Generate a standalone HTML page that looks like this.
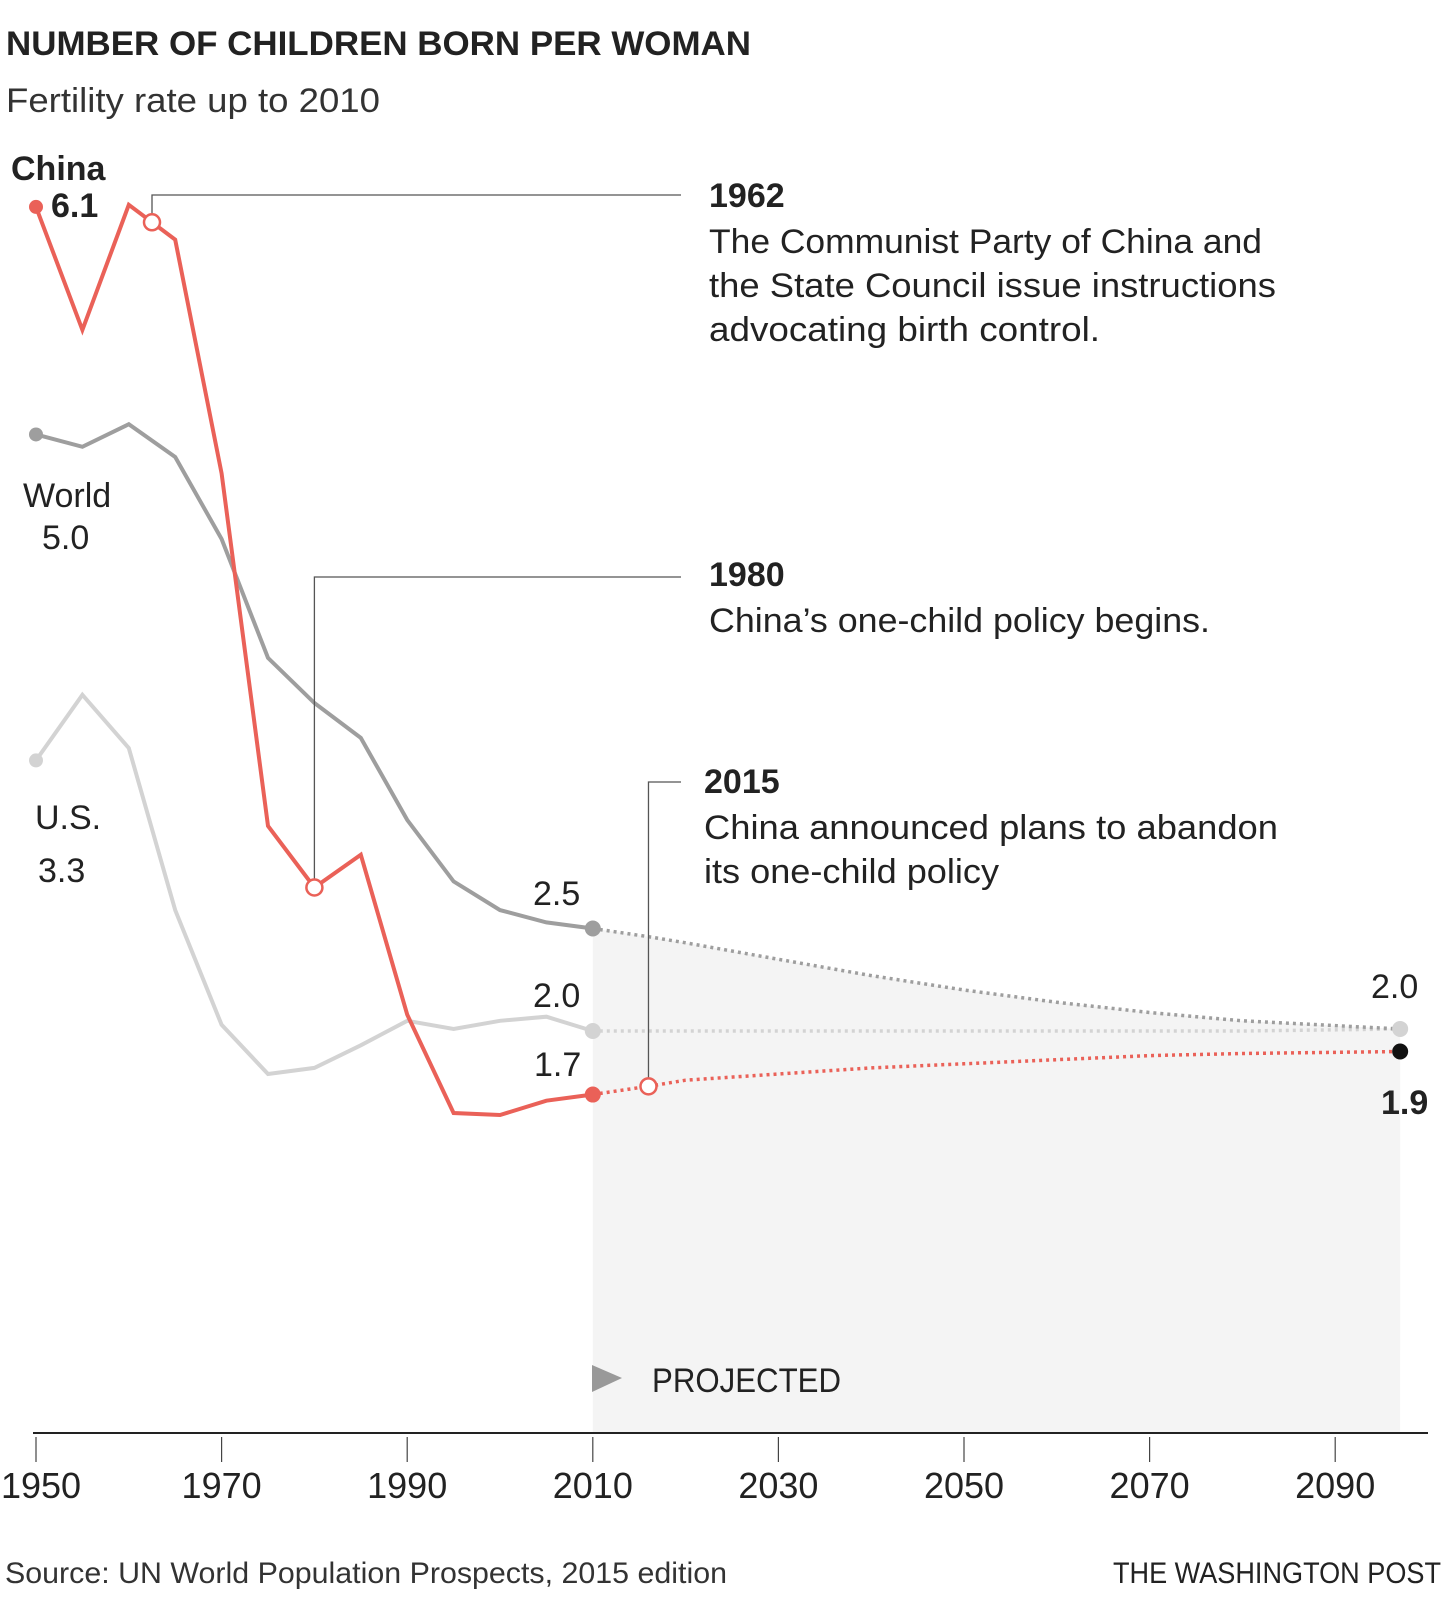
<!DOCTYPE html>
<html><head><meta charset="utf-8">
<style>
html,body{margin:0;padding:0;background:#fff;}
svg{display:block;font-family:"Liberation Sans",sans-serif;}
</style></head>
<body>
<svg id="chart" width="1448" height="1600" viewBox="0 0 1448 1600" xmlns="http://www.w3.org/2000/svg">
<text x="6" y="55" font-size="34" font-weight="bold" fill="#222" textLength="745" lengthAdjust="spacingAndGlyphs">NUMBER OF CHILDREN BORN PER WOMAN</text>
<text x="6" y="112" font-size="34" fill="#333" textLength="374" lengthAdjust="spacingAndGlyphs">Fertility rate up to 2010</text>
<g id="plot"></g>
<text x="5" y="1583" font-size="30" fill="#333" textLength="722" lengthAdjust="spacingAndGlyphs">Source: UN World Population Prospects, 2015 edition</text>
<text x="1113" y="1583" font-size="30" fill="#222" textLength="328" lengthAdjust="spacingAndGlyphs">THE WASHINGTON POST</text>
</svg>
<script>
const histYears = [1950,1955,1960,1965,1970,1975,1980,1985,1990,1995,2000,2005,2010];
const chinaHist = [6.02,5.42,6.03,5.86,4.72,3.00,2.70,2.86,2.08,1.60,1.59,1.66,1.69];
const worldHist = [4.91,4.85,4.96,4.80,4.40,3.82,3.60,3.43,3.03,2.73,2.59,2.53,2.50];
const usHist    = [3.32,3.64,3.38,2.59,2.03,1.79,1.82,1.93,2.05,2.01,2.05,2.07,2.00];
const projYears = [2010,2016,2020,2030,2040,2050,2060,2070,2080,2097];
const chinaProj = [1.69,1.73,1.76,1.79,1.82,1.84,1.86,1.88,1.89,1.90];
const worldProj = [2.50,2.46,2.43,2.35,2.27,2.20,2.14,2.09,2.05,2.01];
const usProj    = [2.00,2.00,2.00,2.00,2.00,2.00,2.00,2.00,2.00,2.01];
const tickYears = [1950,1970,1990,2010,2030,2050,2070,2090];
const tickLabels = ["1950","1970","1990","2010","2030","2050","2070","2090"];

const NS = "http://www.w3.org/2000/svg";
const g = document.getElementById('plot');
const x = yr => 36 + (yr - 1950) * 9.28;
const y = v => 1441 - v * 205;
const interp = (yrs, vals, yr) => { for (let i=0;i<yrs.length-1;i++){ if (yr>=yrs[i]&&yr<=yrs[i+1]){ const t=(yr-yrs[i])/(yrs[i+1]-yrs[i]); return vals[i]+t*(vals[i+1]-vals[i]); } } return vals[vals.length-1]; };
function mk(tag, attrs, parent){ const e=document.createElementNS(NS,tag); for(const k in attrs) e.setAttribute(k,attrs[k]); (parent||g).appendChild(e); return e; }
const pts = (yrs, vals) => yrs.map((yr,i)=>x(yr).toFixed(1)+','+y(vals[i]).toFixed(1)).join(' ');
const lastYear = projYears[projYears.length-1];

let area = 'M'+x(2010)+','+1433+' L'+pts(projYears, worldProj).split(' ').join(' L')+' L'+x(lastYear)+',1433 Z';
const shade = mk('path',{d:area,fill:'#f4f4f4'});



const tri = mk('polygon',{points:'592,1365 592,1392 622,1378',fill:'#999'});


const pt = mk('text',{x:652,y:1392,'font-size':34,fill:'#222',textLength:189,lengthAdjust:'spacingAndGlyphs'}); pt.textContent='PROJECTED';



const ax = mk('line',{x1:33,x2:1428,y1:1433,y2:1433,stroke:'#222','stroke-width':2});


tickYears.forEach((yr,i)=>{
  const t = mk('line',{x1:x(yr),x2:x(yr),y1:1437,y2:1462,stroke:'#444','stroke-width':1.2});
  
  
  const l = mk('text',{x:Math.max(x(yr),41),y:1498,'font-size':36,'text-anchor':'middle',fill:'#222'});
  l.textContent = tickLabels[i];
  
  
});

function series(name, hist, proj, color, w){
  const h = mk('polyline',{points:pts(histYears,hist),fill:'none',stroke:color,'stroke-width':w,'stroke-linejoin':'miter'});
  
  
  const p = mk('polyline',{points:pts(projYears,proj),fill:'none',stroke:color,'stroke-width':3.5,'stroke-dasharray':'3 4'});
  
  
  const s = mk('circle',{cx:x(1950),cy:y(hist[0]),r:7,fill:color});
  
  
  const e = mk('circle',{cx:x(2010),cy:y(hist[hist.length-1]),r:8,fill:color});
  
  
}
series('us', usHist, usProj, '#d3d3d3', 4);
series('world', worldHist, worldProj, '#9e9e9e', 4);
series('china', chinaHist, chinaProj, '#ea6158', 4);

const endW = mk('circle',{cx:x(lastYear),cy:y(worldProj[worldProj.length-1]),r:8,fill:'#d3d3d3'});


const endC = mk('circle',{cx:x(lastYear),cy:y(chinaProj[chinaProj.length-1]),r:8,fill:'#111'});



function callout(name, yr, val, lineY, label, lines, tx, ty, widths){
  const cx = x(yr), cy = y(val);
  const l = mk('polyline',{points:cx+','+(cy-8)+' '+cx+','+lineY+' 681,'+lineY,fill:'none',stroke:'#555','stroke-width':1.3});
  
  
  const c = mk('circle',{cx:cx,cy:cy,r:8,fill:'#fff',stroke:'#ea6158','stroke-width':2.5});
  
  
  const t = mk('text',{x:tx,y:ty,'font-size':34,'font-weight':'bold',fill:'#222'}); t.textContent=label;
  
  
  lines.forEach((s,i)=>{
    const b = mk('text',{x:tx,y:ty+46+i*44,'font-size':34,fill:'#222',textLength:widths[i],lengthAdjust:'spacingAndGlyphs'}); b.textContent=s;
    
    
  });
}
callout('callout-1962', 1962.5, interp(histYears,chinaHist,1962.5), 195, '1962',
  ['The Communist Party of China and','the State Council issue instructions','advocating birth control.'], 709, 207, [553,567,391]);
callout('callout-1980', 1980, interp(histYears,chinaHist,1980), 577, '1980',
  ['China\u2019s one-child policy begins.'], 709, 586, [501]);
callout('callout-2015', 2016, interp(projYears,chinaProj,2016), 782, '2015',
  ['China announced plans to abandon','its one-child policy'], 704, 793, [574,295]);

function label(name, txt, tx, ty, bold){
  const t = mk('text',{x:tx,y:ty,'font-size':34,fill:'#222','font-weight':bold?'bold':'normal'});
  t.textContent = txt;
  
  
}
label('china-label','China',11,180,true);
label('china-start-value','6.1',51,217,true);
label('world-label','World',23,507,false);
label('world-start-value','5.0',42,549,false);
label('us-label','U.S.',35,829,false);
label('us-start-value','3.3',38,882,false);
label('world-2010-value','2.5',533,905,false);
label('us-2010-value','2.0',533,1007,false);
label('china-2010-value','1.7',534,1076,false);
label('world-us-end-value','2.0',1371,998,false);
label('china-end-value','1.9',1381,1114,true);
</script>
</body></html>
